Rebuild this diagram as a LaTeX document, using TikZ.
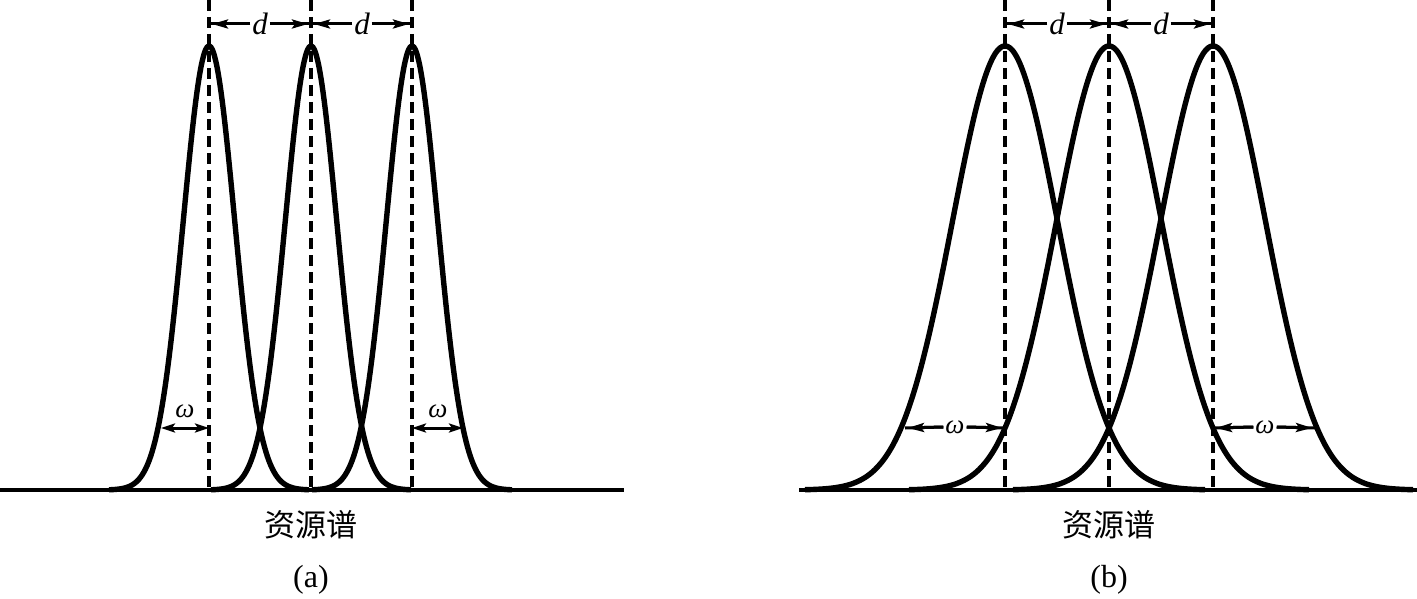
\documentclass[tikz,border=0pt]{standalone}
\usepackage{fontspec}
\setmainfont{Liberation Serif}
\newfontfamily\cjk{Noto Sans CJK SC}
\usetikzlibrary{arrows.meta}
\tikzset{
  curve/.style={line width=5.4pt, line join=round},
  baseln/.style={line width=3.6pt},
  guide/.style={line width=3.2pt, dash pattern=on 11pt off 6pt},
  shaft/.style={line width=3pt},
  dim/.style={line width=3pt, shorten >=3pt, -{Stealth[length=16pt,width=9pt,inset=3pt]}},
  dimboth/.style={line width=3pt, {Stealth[length=14pt,width=9pt,inset=3pt]}-{Stealth[length=14pt,width=9pt,inset=3pt]}},
  dlab/.style={font=\fontsize{31}{31}\selectfont\itshape, inner sep=2pt},
  wlab/.style={font=\fontsize{27}{27}\selectfont\itshape, inner sep=2pt},
  captxt/.style={font=\cjk\fontsize{31}{31}\selectfont, inner sep=0pt},
  subtxt/.style={font=\fontsize{32}{32}\selectfont, inner sep=0pt}
}
\begin{document}
\begin{tikzpicture}[x=1pt,y=-1pt]
\useasboundingbox (0,0) rectangle (1417,599);
% ---------- panel (a) ----------
\coordinate (aL) at (0,490);
\coordinate (aR) at (624,490);
\draw[baseln] (aL) -- (aR);
\foreach \c/\n in {209/a1,311/a2,412/a3}{
  \coordinate (\n t) at (\c,0);
  \coordinate (\n b) at (\c,490);
  \coordinate (\n d) at (\c,24);
  \coordinate (\n w) at (\c,428);
  \draw[guide] (\n t) -- (\n b);
  \draw[curve] plot[domain=-100:100, samples=121, smooth] ({\c+\x},{490-444*exp(-0.5*(\x/25.7)*(\x/25.7))});
}
\node[dlab] (ad1) at (260,24) {d};
\node[dlab] (ad2) at (362,24) {d};
\foreach \l/\r in {ad1/a1d,ad2/a2d}{ \draw[shaft] (\l.west) -- (\r); \draw[dim] (\l.west) -- (\r); }
\foreach \l/\r in {ad1/a2d,ad2/a3d}{ \draw[shaft] (\l.east) -- (\r); \draw[dim] (\l.east) -- (\r); }
\coordinate (aw1) at (161,428);
\coordinate (aw2) at (463,428);
\draw[dimboth] (aw1) -- (a1w);
\draw[dimboth] (a3w) -- (aw2);
\node[wlab] (aw1l) at (185,411) {ω};
\node[wlab] (aw2l) at (438,411) {ω};
\node[captxt] (acap) at (311,525) {资源谱};
\node[subtxt] (asub) at (311,580) {(a)};
% ---------- panel (b) ----------
\coordinate (bL) at (799,490);
\coordinate (bR) at (1417,490);
\draw[baseln] (bL) -- (bR);
\foreach \c/\n in {1005/b1,1109/b2,1213/b3}{
  \coordinate (\n t) at (\c,0);
  \coordinate (\n b) at (\c,490);
  \coordinate (\n d) at (\c,24);
  \coordinate (\n w) at (\c,428);
  \draw[guide] (\n t) -- (\n b);
  \draw[curve] plot[domain=-200:200, samples=161, smooth] ({\c+\x},{490-444*exp(-0.5*(\x/52.4)*(\x/52.4))});
}
\node[dlab] (bd1) at (1057,24) {d};
\node[dlab] (bd2) at (1161,24) {d};
\foreach \l/\r in {bd1/b1d,bd2/b2d}{ \draw[shaft] (\l.west) -- (\r); \draw[dim] (\l.west) -- (\r); }
\foreach \l/\r in {bd1/b2d,bd2/b3d}{ \draw[shaft] (\l.east) -- (\r); \draw[dim] (\l.east) -- (\r); }
\coordinate (bw1) at (905,428);
\coordinate (bw2) at (1315,428);
\node[wlab] (bw1l) at (955,427) {ω};
\node[wlab] (bw2l) at (1265,427) {ω};
\draw[shaft] (bw1l.west) -- (bw1); \draw[dim] (bw1l.west) -- (bw1);
\draw[shaft] (bw1l.east) -- (b1w); \draw[dim] (bw1l.east) -- (b1w);
\draw[shaft] (bw2l.west) -- (b3w); \draw[dim] (bw2l.west) -- (b3w);
\draw[shaft] (bw2l.east) -- (bw2); \draw[dim] (bw2l.east) -- (bw2);
\node[captxt] (bcap) at (1109,525) {资源谱};
\node[subtxt] (bsub) at (1109,580) {(b)};
\end{tikzpicture}
\end{document}
